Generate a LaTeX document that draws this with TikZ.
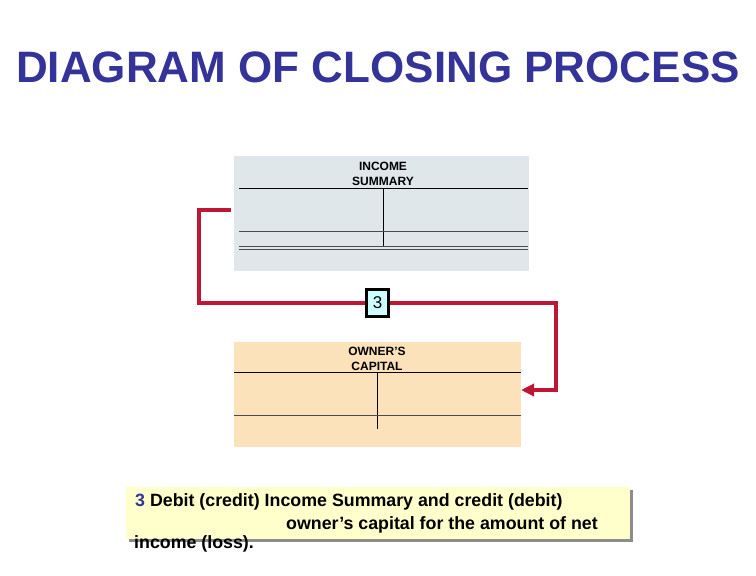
\documentclass[tikz,border=0pt]{standalone}
\usepackage{fontspec}
\setmainfont{Liberation Sans}
\usetikzlibrary{positioning,arrows.meta,shadows}
\definecolor{titleblue}{RGB}{51,51,153}
\definecolor{flowred}{RGB}{190,22,52}
\definecolor{isfill}{RGB}{223,231,235}
\definecolor{capfill}{RGB}{252,226,186}
\definecolor{notefill}{RGB}{255,255,204}
\definecolor{numfill}{RGB}{204,255,255}

\begin{document}
\begin{tikzpicture}[x=1pt, y=-1pt,
    acct/.style={rectangle, draw=none, inner sep=0pt, anchor=north west},
    accthead/.style={font=\fontsize{12}{14.5}\selectfont\bfseries, align=center, anchor=base, inner sep=0pt},
    rule/.style={line width=0.9pt},
    flow/.style={flowred, line width=4pt, line join=miter},
    numbox/.style={draw, line width=2.8pt, fill=numfill, minimum width=22pt, minimum height=27pt, inner sep=0pt, font=\fontsize{17}{17}\selectfont},
    notetext/.style={font=\fontsize{17.8}{17.8}\selectfont\bfseries, anchor=base west, inner sep=0pt}]
  \useasboundingbox (0,0) rectangle (756,576);
  \node[font=\fontsize{44}{44}\selectfont\bfseries, text=titleblue, anchor=base, inner sep=0pt] (title) at (378,82) {DIAGRAM OF CLOSING PROCESS};
  % income summary account
  \node[acct, fill=isfill, minimum width=295pt, minimum height=115pt] (is) at (234,156) {};
  \node[accthead] (ishead) at (383,185) {INCOME\\SUMMARY};
  \draw[rule] (239,188) -- (528,188);
  \draw[rule] (383,188) -- (383,247);
  \draw[rule, black!70] (239,231) -- (528,231);
  \draw[rule, black!70] (239,246.5) -- (528,246.5);
  \draw[rule, black!70] (239,249.5) -- (528,249.5);
  % owner's capital account
  \node[acct, fill=capfill, minimum width=287pt, minimum height=105pt] (cap) at (234,342) {};
  \node[accthead] (caphead) at (377,370) {OWNER'S\\CAPITAL};
  \draw[rule] (cap.west |- 0,372) -- (cap.east |- 0,372);
  \draw[rule] (377,372) -- (377,429);
  \draw[rule, black!70] (cap.west |- 0,415) -- (cap.east |- 0,415);
  % closing entry 3
  \coordinate (isout) at (231,210);
  \coordinate (capin) at (521,390);
  \coordinate (mid) at (377.5,303);
  \draw[flow, -{Triangle[length=13pt, width=12pt]}] (isout) -- (199,210) |- (mid) -| (556,390) -- (capin);
  \node[numbox] (num) at (mid) {3};
  % explanation
  \node[acct, fill=notefill, minimum width=504pt, minimum height=52pt,
        drop shadow={shadow xshift=3pt, shadow yshift=-3pt, fill=black!45, opacity=1}] (note) at (126,487) {};
  \node[notetext] (l1) at (135,506) {\textcolor{titleblue}{3} Debit (credit) Income Summary and credit (debit)};
  \node[notetext] (l2) at (286,529) {owner’s capital for the amount of net};
  \node[notetext] (l3) at (134,548) {income (loss).};
\end{tikzpicture}
\end{document}
